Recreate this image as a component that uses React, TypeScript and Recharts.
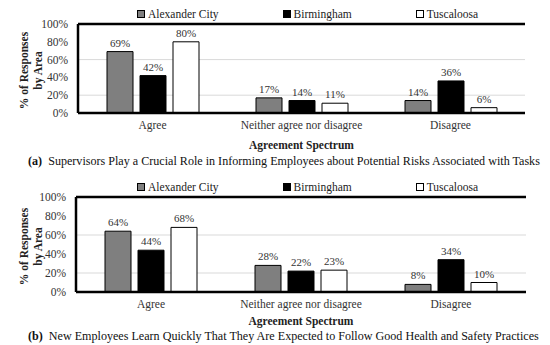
import React from 'react';
import { BarChart, Bar, XAxis, YAxis, CartesianGrid, LabelList, ReferenceLine } from 'recharts';

const categories = ['Agree', 'Neither agree nor disagree', 'Disagree'];
const seriesNames = ['Alexander City', 'Birmingham', 'Tuscaloosa'];
const seriesKeys = ['alex', 'birm', 'tusc'];

// panel (a)
const alexA = [69, 17, 14];
const birmA = [42, 14, 36];
const tuscA = [80, 11, 6];

// panel (b)
const alexB = [64, 28, 8];
const birmB = [44, 22, 34];
const tuscB = [68, 23, 10];

const yTicks = [0, 20, 40, 60, 80, 100];

const FILLS = ['#7f7f7f', '#000000', '#ffffff'];
const FONT = "'Liberation Serif', 'Times New Roman', serif";

function buildRows(alex: number[], birm: number[], tusc: number[]) {
  return categories.map((name, i) => ({ name, alex: alex[i], birm: birm[i], tusc: tusc[i] }));
}

const rowsA = buildRows(alexA, birmA, tuscA);
const rowsB = buildRows(alexB, birmB, tuscB);

function YTitle(props: any) {
  const vb = props.viewBox || { x: 0, y: 0, width: 0, height: 0 };
  const cy = vb.y + vb.height / 2 + 2;
  const x1 = vb.x + 24;
  const x2 = vb.x + 38;
  return (
    <g>
      <text x={x1} y={cy} transform={`rotate(-90, ${x1}, ${cy})`} textAnchor="middle" dominantBaseline="central"
        fontWeight="bold" fontSize={11.5} fill="#222" fontFamily={FONT}>% of Responses</text>
      <text x={x2} y={cy} transform={`rotate(-90, ${x2}, ${cy})`} textAnchor="middle" dominantBaseline="central"
        fontWeight="bold" fontSize={11.5} fill="#222" fontFamily={FONT}>by Area</text>
    </g>
  );
}

function LegendRow({ top }: { top: number }) {
  return (
    <div style={{ position: 'absolute', top, left: 137, height: 14, display: 'flex', gap: 64, alignItems: 'center', fontSize: 11.5, lineHeight: '14px', color: '#222', fontFamily: FONT }}>
      {seriesNames.map((n, i) => (
        <div key={n} style={{ display: 'flex', alignItems: 'center' }}>
          <div style={{ width: 6, height: 6, background: FILLS[i], border: '1px solid #000', marginRight: 3 }} />
          <span style={{ fontFamily: FONT }}>{n}</span>
        </div>
      ))}
    </div>
  );
}

type PanelProps = {
  rows: any[];
  top: number;
  height: number;
  marginTop: number;
  marginRight: number;
  yWidth: number;
  xHeight: number;
  tag: string;
  caption: string;
  captionTop: number;
};

function Panel({ rows, top, height, marginTop, marginRight, yWidth, xHeight, tag, caption, captionTop }: PanelProps) {
  return (
    <>
      <LegendRow top={top + marginTop - 17} />
      <div style={{ position: 'absolute', top, left: 0 }}>
        <BarChart width={550} height={height} data={rows} barSize={26} barGap={7}
          margin={{ top: marginTop, right: marginRight, bottom: 0, left: 0 }}>
          <CartesianGrid vertical={false} stroke="#d9d9d9" strokeWidth={1} />
          <XAxis dataKey="name" height={xHeight} tickLine={false} axisLine={{ stroke: '#000', strokeWidth: 2.5 }}
            tick={{ fontSize: 11.5, fill: '#333', fontFamily: FONT }}
            label={{ value: 'Agreement Spectrum', position: 'insideBottom', offset: 4, fontSize: 11.5, fontWeight: 'bold', fill: '#222', fontFamily: FONT }} />
          <YAxis domain={[0, 100]} ticks={yTicks} width={yWidth} tickLine={false} tickSize={0} tickMargin={10}
            tickFormatter={(v: number) => `${v}%`} axisLine={{ stroke: '#000', strokeWidth: 2.5 }}
            tick={{ fontSize: 11.5, fill: '#333', fontFamily: FONT }} label={{ content: (p: any) => <YTitle {...p} /> }} />
          <YAxis yAxisId="right" orientation="right" width={0} domain={[0, 100]} tick={false} tickLine={false}
            axisLine={{ stroke: '#000', strokeWidth: 2.5 }} />
          <ReferenceLine y={100} stroke="#000" strokeWidth={2.5} />
          {seriesKeys.map((k, i) => (
            <Bar key={k} dataKey={k} name={seriesNames[i]} fill={FILLS[i]} stroke="#000" strokeWidth={1} isAnimationActive={false}>
              <LabelList dataKey={k} position="top" formatter={(v: any) => `${v}%`} fontSize={11} fill="#333" fontFamily={FONT} />
            </Bar>
          ))}
        </BarChart>
      </div>
      <div style={{ position: 'absolute', top: captionTop, left: 28, fontSize: 12.1, lineHeight: '14px', color: '#111', whiteSpace: 'nowrap', fontFamily: FONT }}>
        <b>{tag}</b>{'\u00a0\u00a0'}{caption}
      </div>
    </>
  );
}

export default function App() {
  return (
    <div style={{ position: 'absolute', top: 0, left: 0, width: 550, height: 345, background: '#fff', fontFamily: FONT }}>
      <Panel rows={rowsA} top={0} height={153} marginTop={24} marginRight={25} yWidth={78} xHeight={40}
        tag="(a)" caption="Supervisors Play a Crucial Role in Informing Employees about Potential Risks Associated with Tasks" captionTop={154} />
      <Panel rows={rowsB} top={170} height={159} marginTop={27} marginRight={24} yWidth={76} xHeight={37}
        tag="(b)" caption="New Employees Learn Quickly That They Are Expected to Follow Good Health and Safety Practices" captionTop={329} />
    </div>
  );
}
